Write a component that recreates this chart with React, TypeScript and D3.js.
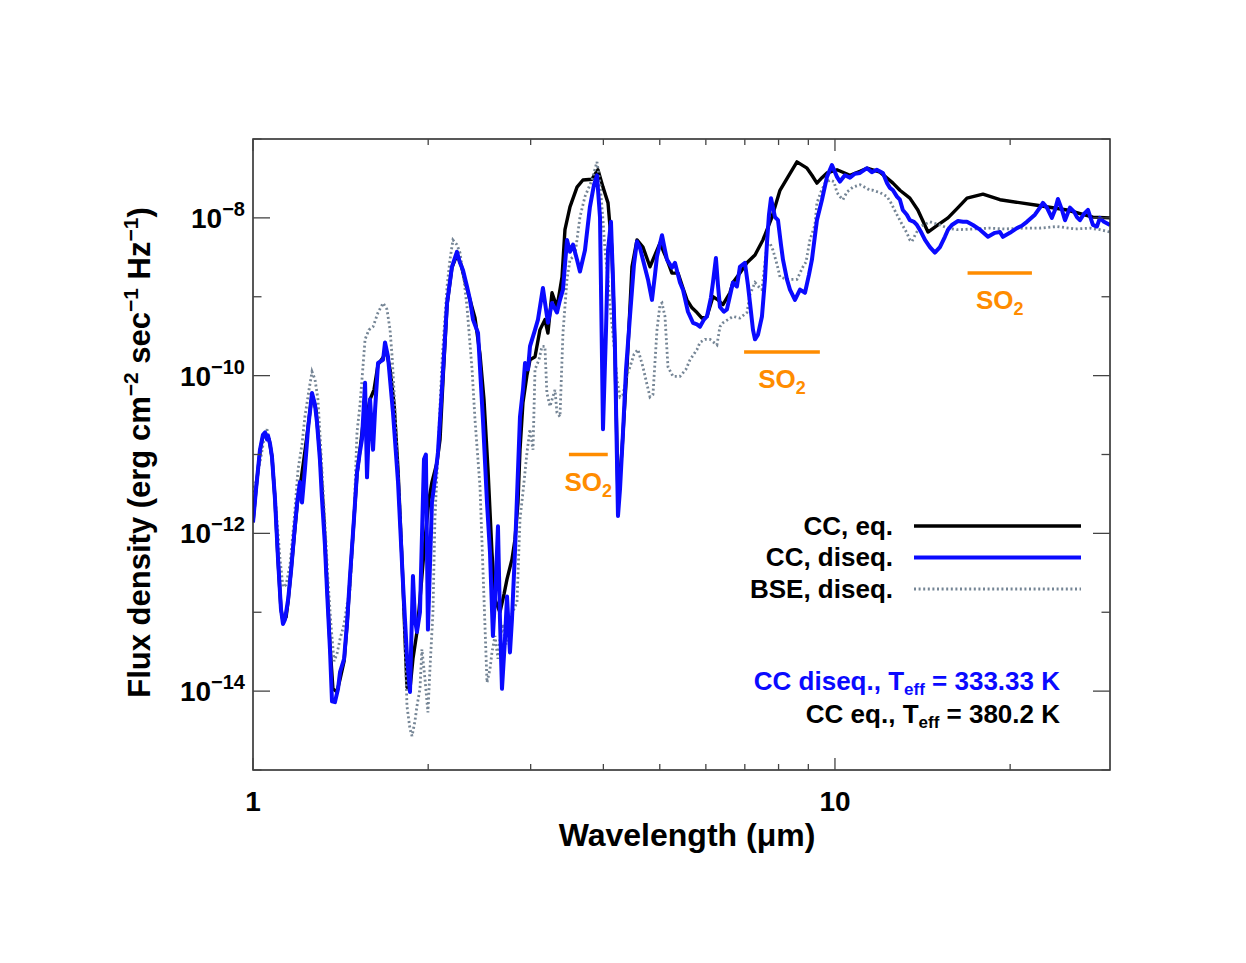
import React, { useEffect, useRef } from 'react';
import * as d3 from 'd3';

// spectra: [wavelength (µm), log10 flux density (erg cm^-2 s^-1 Hz^-1)]
const ccEq: [number, number][] = [
  [1.000, -11.86], [1.012, -11.44], [1.028, -10.96], [1.040, -10.77], [1.053, -10.75], [1.066, -10.81],
  [1.078, -11.03], [1.091, -11.57], [1.104, -12.33], [1.117, -12.96], [1.126, -13.11], [1.140, -13.06],
  [1.149, -12.86], [1.163, -12.46], [1.177, -12.04], [1.191, -11.63], [1.204, -11.42], [1.223, -11.06],
  [1.243, -10.66], [1.263, -10.24], [1.283, -10.43], [1.303, -11.00], [1.324, -11.82], [1.340, -12.65],
  [1.356, -13.41], [1.372, -13.97], [1.394, -14.01], [1.411, -13.85], [1.434, -13.62], [1.451, -13.15],
  [1.468, -12.58], [1.491, -11.82], [1.509, -11.25], [1.527, -10.94], [1.545, -10.62], [1.570, -10.49],
  [1.589, -10.30], [1.614, -10.18], [1.640, -9.86], [1.673, -9.77], [1.693, -9.67], [1.720, -9.92],
  [1.748, -10.37], [1.775, -11.19], [1.803, -12.33], [1.825, -13.34], [1.839, -13.95], [1.861, -13.97],
  [1.883, -13.59], [1.913, -13.25], [1.936, -12.84], [1.975, -12.08], [2.006, -11.57], [2.030, -11.35],
  [2.071, -11.10], [2.096, -10.81], [2.121, -10.05], [2.155, -9.10], [2.197, -8.63], [2.241, -8.47],
  [2.277, -8.59], [2.322, -8.85], [2.360, -9.04], [2.407, -9.27], [2.455, -9.73], [2.494, -10.30],
  [2.534, -11.19], [2.574, -12.24], [2.605, -12.84], [2.657, -13.00], [2.700, -12.77], [2.732, -12.58],
  [2.786, -12.33], [2.819, -12.08], [2.853, -11.61], [2.876, -10.94], [2.910, -10.34], [2.957, -9.99],
  [2.992, -9.80], [3.052, -9.76], [3.112, -9.42], [3.174, -9.29], [3.212, -9.46], [3.264, -8.95],
  [3.329, -9.13], [3.369, -8.91], [3.396, -8.75], [3.436, -8.15], [3.505, -7.86], [3.604, -7.61],
  [3.689, -7.52], [3.823, -7.51], [3.915, -7.39], [3.994, -7.61], [4.074, -7.81], [4.138, -8.41],
  [4.188, -9.67], [4.238, -11.57], [4.306, -10.94], [4.392, -9.89], [4.479, -8.62], [4.569, -8.28],
  [4.678, -8.37], [4.810, -8.62], [4.906, -8.47], [5.004, -8.32], [5.145, -8.53], [5.247, -8.70],
  [5.374, -8.70], [5.480, -8.89], [5.568, -9.04], [5.680, -9.14], [5.793, -9.20], [5.907, -9.27],
  [6.026, -9.25], [6.171, -9.00], [6.294, -9.04], [6.420, -9.10], [6.600, -8.95], [6.679, -8.82],
  [6.866, -8.70], [7.059, -8.57], [7.288, -8.47], [7.520, -8.28], [7.794, -7.99], [8.045, -7.65],
  [8.304, -7.48], [8.604, -7.29], [8.953, -7.37], [9.129, -7.46], [9.311, -7.56], [9.499, -7.49],
  [9.689, -7.43], [10.08, -7.39], [10.61, -7.46], [11.04, -7.41], [11.35, -7.37], [11.95, -7.42],
  [12.58, -7.56], [12.93, -7.65], [13.45, -7.75], [13.88, -7.90], [14.45, -8.18], [15.03, -8.09],
  [15.64, -8.00], [16.27, -7.87], [16.86, -7.75], [17.96, -7.70], [19.21, -7.77], [22.24, -7.84],
  [25.04, -7.90], [27.75, -7.99], [29.69, -8.00],
];

const ccDiseq: [number, number][] = [
  [1.000, -11.86], [1.012, -11.44], [1.028, -10.94], [1.040, -10.75], [1.049, -10.72], [1.057, -10.81],
  [1.061, -10.76], [1.070, -10.87], [1.078, -11.03], [1.091, -11.57], [1.104, -12.32], [1.117, -12.96],
  [1.126, -13.15], [1.135, -13.09], [1.149, -12.84], [1.163, -12.46], [1.177, -12.01], [1.191, -11.61],
  [1.204, -11.35], [1.214, -11.61], [1.228, -11.19], [1.243, -10.68], [1.263, -10.22], [1.278, -10.37],
  [1.288, -10.59], [1.303, -11.06], [1.313, -11.53], [1.329, -12.14], [1.340, -12.71], [1.356, -13.47],
  [1.367, -14.13], [1.383, -14.14], [1.400, -13.97], [1.411, -13.76], [1.434, -13.59], [1.451, -13.13],
  [1.468, -12.54], [1.491, -11.82], [1.509, -11.23], [1.527, -10.96], [1.539, -10.81], [1.558, -10.09],
  [1.570, -11.29], [1.589, -10.30], [1.608, -10.94], [1.621, -10.43], [1.640, -9.84], [1.673, -9.80],
  [1.686, -9.58], [1.706, -9.76], [1.740, -10.47], [1.775, -11.35], [1.810, -12.62], [1.839, -13.56],
  [1.861, -14.01], [1.883, -12.54], [1.898, -13.09], [1.913, -13.25], [1.936, -13.00], [1.967, -11.06],
  [1.982, -11.00], [1.998, -13.22], [2.030, -11.61], [2.054, -11.32], [2.079, -10.97], [2.113, -10.14],
  [2.155, -9.08], [2.197, -8.62], [2.241, -8.43], [2.268, -8.57], [2.295, -8.66], [2.332, -8.87],
  [2.360, -9.04], [2.388, -9.29], [2.436, -9.46], [2.484, -10.56], [2.524, -11.61], [2.554, -12.24],
  [2.584, -13.30], [2.615, -12.58], [2.636, -11.91], [2.657, -13.09], [2.678, -13.97], [2.710, -13.34],
  [2.732, -12.80], [2.764, -13.51], [2.786, -13.09], [2.819, -12.24], [2.876, -10.52], [2.910, -10.18],
  [2.934, -9.84], [2.969, -9.92], [2.992, -9.63], [3.052, -9.42], [3.088, -9.29], [3.149, -8.89],
  [3.212, -9.33], [3.264, -9.08], [3.329, -9.20], [3.369, -9.04], [3.409, -8.91], [3.464, -8.28],
  [3.505, -8.43], [3.547, -8.34], [3.604, -8.53], [3.646, -8.68], [3.719, -8.41], [3.793, -7.86],
  [3.854, -7.58], [3.900, -7.46], [3.947, -7.99], [3.994, -10.68], [4.042, -9.42], [4.074, -8.41],
  [4.122, -8.05], [4.155, -8.78], [4.188, -9.67], [4.238, -11.78], [4.272, -11.44], [4.323, -10.72],
  [4.375, -9.92], [4.444, -9.25], [4.515, -8.59], [4.569, -8.30], [4.623, -8.38], [4.678, -8.53],
  [4.772, -8.78], [4.848, -9.04], [4.906, -8.72], [4.945, -8.49], [5.044, -8.22], [5.104, -8.41],
  [5.145, -8.53], [5.247, -8.63], [5.310, -8.57], [5.416, -8.82], [5.480, -8.91], [5.590, -9.19],
  [5.702, -9.33], [5.793, -9.35], [5.861, -9.38], [5.955, -9.29], [6.026, -9.25], [6.122, -9.01],
  [6.171, -8.82], [6.244, -8.51], [6.294, -8.85], [6.344, -9.13], [6.445, -9.19], [6.522, -9.16],
  [6.679, -8.82], [6.785, -8.87], [6.866, -8.62], [7.003, -8.57], [7.087, -8.85], [7.145, -9.08],
  [7.230, -9.42], [7.288, -9.54], [7.375, -9.48], [7.491, -9.25], [7.581, -8.78], [7.641, -8.32],
  [7.702, -7.96], [7.764, -7.75], [7.826, -7.87], [7.888, -7.99], [7.982, -8.03], [8.077, -8.34],
  [8.141, -8.53], [8.270, -8.78], [8.369, -8.91], [8.536, -9.04], [8.708, -8.91], [8.882, -8.95],
  [9.024, -8.72], [9.129, -8.53], [9.311, -8.03], [9.499, -7.77], [9.689, -7.48], [9.881, -7.33],
  [10.08, -7.48], [10.20, -7.54], [10.40, -7.46], [10.61, -7.49], [10.82, -7.44], [11.04, -7.43],
  [11.35, -7.37], [11.57, -7.42], [11.80, -7.39], [12.09, -7.43], [12.29, -7.56], [12.43, -7.62],
  [12.58, -7.65], [12.78, -7.73], [12.93, -7.77], [13.08, -7.90], [13.29, -7.96], [13.45, -8.03],
  [13.67, -8.05], [13.83, -8.09], [14.06, -8.18], [14.28, -8.28], [14.56, -8.37], [14.85, -8.44],
  [15.15, -8.37], [15.45, -8.24], [15.64, -8.15], [15.88, -8.09], [16.27, -8.04], [16.60, -8.05],
  [16.86, -8.05], [17.26, -8.09], [17.75, -8.15], [18.32, -8.24], [18.83, -8.19], [19.21, -8.18],
  [19.44, -8.24], [19.98, -8.19], [20.54, -8.13], [20.95, -8.10], [21.37, -8.05], [22.06, -7.96],
  [22.50, -7.87], [22.77, -7.81], [23.13, -7.87], [23.59, -8.00], [23.88, -7.90], [24.16, -7.76],
  [24.55, -7.90], [24.85, -8.03], [25.34, -7.87], [25.75, -7.92], [26.05, -7.99], [26.36, -8.03],
  [26.78, -7.95], [27.21, -7.90], [27.75, -8.09], [28.19, -8.11], [28.53, -8.00], [28.99, -8.05],
  [29.69, -8.09],
];

const bseDiseq: [number, number][] = [
  [1.000, -11.48], [1.016, -11.29], [1.028, -11.10], [1.044, -10.81], [1.057, -10.68], [1.070, -10.87],
  [1.083, -11.19], [1.100, -11.86], [1.113, -12.33], [1.126, -12.68], [1.140, -12.65], [1.158, -12.39],
  [1.177, -11.82], [1.195, -11.19], [1.214, -10.87], [1.228, -10.52], [1.248, -10.18], [1.263, -9.95],
  [1.278, -10.05], [1.293, -10.30], [1.308, -10.94], [1.319, -11.44], [1.334, -12.08], [1.345, -12.58],
  [1.361, -13.15], [1.378, -13.62], [1.394, -13.53], [1.411, -13.34], [1.434, -13.15], [1.451, -12.90],
  [1.468, -12.71], [1.491, -11.82], [1.509, -10.72], [1.527, -10.37], [1.539, -10.05], [1.558, -9.54],
  [1.582, -9.42], [1.608, -9.38], [1.640, -9.20], [1.673, -9.08], [1.699, -9.16], [1.720, -9.42],
  [1.734, -9.76], [1.754, -10.43], [1.768, -11.03], [1.789, -11.70], [1.803, -12.29], [1.825, -13.34],
  [1.839, -14.19], [1.861, -14.48], [1.876, -14.57], [1.898, -14.38], [1.913, -14.19], [1.936, -13.97],
  [1.951, -13.47], [1.975, -13.85], [1.998, -14.27], [2.014, -13.72], [2.038, -13.00], [2.054, -11.82],
  [2.079, -10.97], [2.113, -9.80], [2.155, -8.87], [2.180, -8.53], [2.206, -8.28], [2.241, -8.34],
  [2.268, -8.44], [2.304, -8.78], [2.332, -9.13], [2.379, -9.92], [2.407, -10.56], [2.455, -11.41],
  [2.484, -12.46], [2.524, -13.89], [2.554, -13.72], [2.574, -13.51], [2.605, -13.30], [2.636, -13.59],
  [2.657, -13.34], [2.689, -13.15], [2.721, -13.41], [2.764, -13.09], [2.808, -12.96], [2.842, -12.87],
  [2.876, -11.82], [2.910, -11.48], [2.957, -10.97], [2.992, -10.68], [3.028, -10.94], [3.052, -9.92],
  [3.100, -9.80], [3.137, -9.63], [3.174, -9.63], [3.199, -10.22], [3.238, -10.39], [3.303, -10.18],
  [3.329, -10.47], [3.369, -10.52], [3.409, -9.46], [3.464, -8.78], [3.505, -8.53], [3.575, -8.47],
  [3.646, -7.99], [3.719, -7.73], [3.823, -7.52], [3.900, -7.29], [3.947, -7.56], [3.994, -8.03],
  [4.026, -8.41], [4.074, -8.78], [4.106, -9.10], [4.155, -9.48], [4.221, -10.05], [4.272, -10.27],
  [4.323, -10.24], [4.392, -9.99], [4.444, -9.89], [4.515, -9.73], [4.587, -9.67], [4.678, -9.89],
  [4.753, -10.11], [4.810, -10.27], [4.867, -10.24], [4.945, -9.42], [5.004, -9.10], [5.044, -9.08],
  [5.104, -9.25], [5.165, -9.89], [5.268, -10.01], [5.416, -10.01], [5.546, -9.92], [5.635, -9.80],
  [5.793, -9.67], [5.861, -9.58], [5.978, -9.54], [6.098, -9.54], [6.269, -9.61], [6.344, -9.38],
  [6.420, -9.33], [6.679, -9.25], [6.866, -9.27], [7.059, -9.20], [7.145, -8.97], [7.288, -8.82],
  [7.432, -8.89], [7.491, -8.91], [7.641, -8.34], [7.733, -8.32], [7.826, -8.41], [7.951, -8.59],
  [8.045, -8.75], [8.304, -8.78], [8.604, -8.78], [8.812, -8.62], [8.917, -8.56], [9.057, -8.28],
  [9.238, -8.09], [9.311, -7.81], [9.461, -7.67], [9.612, -7.56], [9.804, -7.52], [9.961, -7.54],
  [10.08, -7.68], [10.20, -7.73], [10.32, -7.77], [10.49, -7.67], [10.74, -7.61], [11.04, -7.58],
  [11.31, -7.62], [11.48, -7.65], [11.62, -7.65], [11.95, -7.68], [12.29, -7.73], [12.48, -7.81],
  [12.78, -7.96], [13.08, -8.10], [13.29, -8.19], [13.45, -8.28], [13.56, -8.30], [13.77, -8.20],
  [14.00, -8.11], [14.28, -8.08], [14.56, -8.05], [15.15, -8.09], [15.64, -8.13], [16.20, -8.15],
  [17.40, -8.14], [18.46, -8.13], [19.59, -8.14], [21.04, -8.13], [22.50, -8.13], [24.07, -8.11],
  [25.85, -8.14], [27.42, -8.13], [28.53, -8.15], [29.69, -8.18],
];

// SO2 absorption bands: wavelength range (µm) and the log10 flux level of the marker
const so2Bands = [
  { from: 3.49, to: 4.07, level: -11.0 },
  { from: 6.98, to: 9.42, level: -9.70 },
  { from: 16.9, to: 21.8, level: -8.70 },
];

const xMajor = [1, 10];
const xMinor = [2, 3, 4, 5, 6, 7, 8, 9, 20];
const yLabelled = [-8, -10, -12, -14];
const yUnlabelled = [-7, -9, -11, -13, -15];

const BLUE = '#0a0aff';
const GRAY = '#758595';
const ORANGE = '#ff8c00';

const legendItems = [
  { label: 'CC, eq.', color: '#000', width: 3.4, dash: null },
  { label: 'CC, diseq.', color: BLUE, width: 4, dash: null },
  { label: 'BSE, diseq.', color: GRAY, width: 2.8, dash: '2,2.6' },
];

const teffNotes = [
  { model: 'CC diseq., T', teff: '333.33', color: BLUE },
  { model: 'CC eq., T', teff: '380.2', color: '#000' },
];

const FONT = '"Liberation Sans", Arial, Helvetica, sans-serif';

export default function App() {
  const ref = useRef<SVGSVGElement | null>(null);

  useEffect(() => {
    const svg = d3.select(ref.current);
    svg.selectAll('*').remove();

    const margin = { left: 253, top: 139 };
    const innerW = 857;
    const innerH = 631;

    const x = d3.scaleLog().domain([1, 29.69]).range([0, innerW]);
    const y = d3.scaleLog().domain([1e-15, 1e-7]).range([innerH, 0]);

    const root = svg
      .append('g')
      .attr('transform', `translate(${margin.left},${margin.top})`)
      .attr('font-family', FONT)
      .attr('font-weight', 'bold');

    root.append('clipPath').attr('id', 'plot-clip')
      .append('rect').attr('width', innerW).attr('height', innerH);

    // spectra
    const line = d3.line<[number, number]>()
      .x(d => x(d[0]))
      .y(d => y(Math.pow(10, d[1])));

    const curves = root.append('g').attr('clip-path', 'url(#plot-clip)');
    curves.append('path').datum(ccEq)
      .attr('fill', 'none').attr('stroke', '#000').attr('stroke-width', 3.4)
      .attr('stroke-linejoin', 'round').attr('d', line);
    curves.append('path').datum(bseDiseq)
      .attr('fill', 'none').attr('stroke', GRAY).attr('stroke-width', 2.8)
      .attr('stroke-dasharray', '2,2.6').attr('d', line);
    curves.append('path').datum(ccDiseq)
      .attr('fill', 'none').attr('stroke', BLUE).attr('stroke-width', 4)
      .attr('stroke-linejoin', 'round').attr('d', line);

    // frame
    root.append('rect')
      .attr('width', innerW).attr('height', innerH)
      .attr('fill', 'none').attr('stroke', '#222').attr('stroke-width', 1.5);

    // ticks (inward on all four sides)
    const ticks = root.append('g').attr('stroke', '#444').attr('stroke-width', 1.3);
    const xTick = (v: number, len: number) => {
      ticks.append('line').attr('x1', x(v)).attr('x2', x(v)).attr('y1', innerH).attr('y2', innerH - len);
      ticks.append('line').attr('x1', x(v)).attr('x2', x(v)).attr('y1', 0).attr('y2', len);
    };
    xMajor.forEach(v => xTick(v, 12));
    xMinor.forEach(v => xTick(v, 6));
    const yTick = (e: number, len: number) => {
      const yy = y(Math.pow(10, e));
      ticks.append('line').attr('x1', 0).attr('x2', len).attr('y1', yy).attr('y2', yy);
      ticks.append('line').attr('x1', innerW).attr('x2', innerW - len).attr('y1', yy).attr('y2', yy);
    };
    yLabelled.forEach(e => yTick(e, 17));
    yUnlabelled.forEach(e => yTick(e, 8.5));

    // tick labels
    xMajor.forEach(v => {
      root.append('text')
        .attr('x', x(v)).attr('y', innerH + 41)
        .attr('text-anchor', 'middle').attr('font-size', 28)
        .text(String(v));
    });
    yLabelled.forEach(e => {
      const t = root.append('text')
        .attr('x', -8).attr('y', y(Math.pow(10, e)) + 10)
        .attr('text-anchor', 'end').attr('font-size', 28);
      t.append('tspan').text('10');
      t.append('tspan').attr('dy', -12).attr('font-size', 20).text('\u2212' + Math.abs(e));
    });

    // axis titles
    root.append('text')
      .attr('x', 434).attr('y', innerH + 76)
      .attr('text-anchor', 'middle').attr('font-size', 32)
      .text('Wavelength (\u03bcm)');

    const yt = root.append('text')
      .attr('transform', `translate(${-103},${innerH / 2 - 2}) rotate(-90)`)
      .attr('text-anchor', 'middle').attr('font-size', 31);
    yt.append('tspan').text('Flux density (erg cm');
    yt.append('tspan').attr('dy', -12).attr('font-size', 21).text('\u22122');
    yt.append('tspan').attr('dy', 12).text(' sec');
    yt.append('tspan').attr('dy', -12).attr('font-size', 21).text('\u22121');
    yt.append('tspan').attr('dy', 12).text(' Hz');
    yt.append('tspan').attr('dy', -12).attr('font-size', 21).text('\u22121');
    yt.append('tspan').attr('dy', 12).text(')');

    // SO2 band markers
    so2Bands.forEach(b => {
      const yy = y(Math.pow(10, b.level));
      root.append('line')
        .attr('x1', x(b.from)).attr('x2', x(b.to)).attr('y1', yy).attr('y2', yy)
        .attr('stroke', ORANGE).attr('stroke-width', 3.5);
      const t = root.append('text')
        .attr('x', (x(b.from) + x(b.to)) / 2).attr('y', yy + 36)
        .attr('text-anchor', 'middle').attr('font-size', 26).attr('fill', ORANGE);
      t.append('tspan').text('SO');
      t.append('tspan').attr('dy', 6).attr('font-size', 18).text('2');
    });

    // legend
    const legend = root.append('g').attr('transform', `translate(${640},${387})`);
    legendItems.forEach((it, i) => {
      const yy = i * 31.5;
      legend.append('text')
        .attr('x', 0).attr('y', yy + 8.5)
        .attr('text-anchor', 'end').attr('font-size', 26)
        .text(it.label);
      const ln = legend.append('line')
        .attr('x1', 21).attr('x2', 188).attr('y1', yy).attr('y2', yy)
        .attr('stroke', it.color).attr('stroke-width', it.width);
      if (it.dash) ln.attr('stroke-dasharray', it.dash);
    });

    // effective temperatures
    teffNotes.forEach((n, i) => {
      const t = root.append('text')
        .attr('x', 807).attr('y', 551 + i * 33)
        .attr('text-anchor', 'end').attr('font-size', 26).attr('fill', n.color);
      t.append('tspan').text(n.model);
      t.append('tspan').attr('dy', 5).attr('font-size', 17).text('eff');
      t.append('tspan').attr('dy', -5).text(` = ${n.teff} K`);
    });

    return () => {
      svg.selectAll('*').remove();
    };
  }, []);

  return (
    <svg
      ref={ref}
      width={1246}
      height={963}
      style={{ position: 'absolute', left: 0, top: 0, background: '#fff' }}
    />
  );
}
